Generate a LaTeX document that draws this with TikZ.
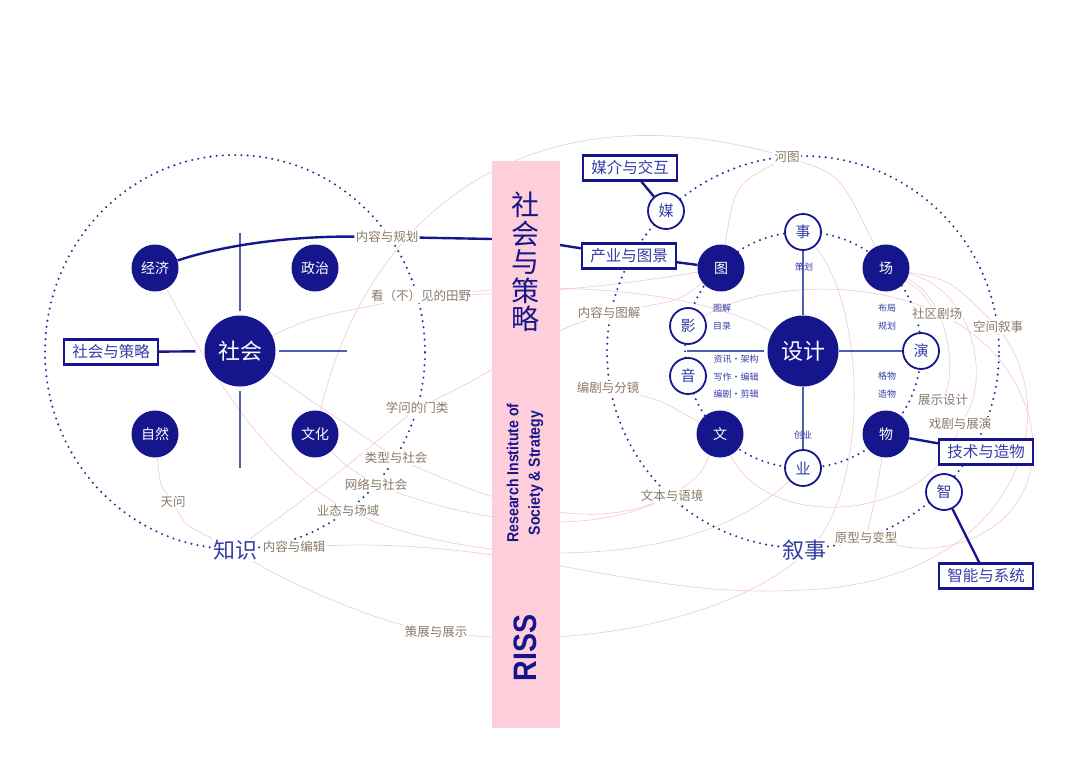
\documentclass[tikz,border=0pt]{standalone}
\usepackage{fontspec}
\newfontfamily\cjk{Noto Sans CJK SC}
\newfontfamily\rissfont[FakeStretch=0.88]{Liberation Sans}

\definecolor{navy}{RGB}{22,22,140}
\definecolor{inkblue}{RGB}{52,62,165}
\definecolor{spokeblue}{RGB}{80,95,180}
\definecolor{dotblue}{RGB}{40,50,150}
\definecolor{barpink}{RGB}{255,206,219}
\definecolor{threadpink}{RGB}{244,204,216}
\definecolor{taupe}{RGB}{138,122,106}

\pgfdeclarelayer{under}
\pgfsetlayers{under,main}

\tikzset{
  hub/.style={circle, fill=navy, text=white, inner sep=0pt, minimum size=71pt, font=\cjk\fontsize{22}{22}\selectfont},
  field/.style={circle, fill=navy, text=white, inner sep=0pt, minimum size=47pt, font=\cjk\fontsize{14}{14}\selectfont},
  ring/.style={circle, draw=navy, line width=1.8pt, fill=white, text=inkblue, inner sep=0pt, minimum size=36pt, font=\cjk\fontsize{15}{15}\selectfont},
  tag/.style={draw=navy, line width=2.2pt, fill=white, text=inkblue, inner sep=0pt, minimum width=94pt, minimum height=25pt, font=\cjk\fontsize{15.5}{15.5}\selectfont},
  theme/.style={fill=white, text=taupe, inner sep=1.2pt, font=\cjk\fontsize{12.5}{12.5}\selectfont},
  realm/.style={fill=white, text=inkblue, inner sep=1pt, font=\cjk\fontsize{22}{22}\selectfont},
  note/.style={text=inkblue, inner sep=0.5pt, font=\cjk\fontsize{9}{9}\selectfont},
  thread/.style={draw=threadpink, line width=0.7pt},
  dotring/.style={draw=dotblue, line width=2.3pt, dash pattern=on 0pt off 6.2pt, line cap=round},
  spoke/.style={draw=spokeblue, line width=1.5pt},
  heavy/.style={draw=navy, line width=2.4pt}
}

\begin{document}
\begin{tikzpicture}[x=1pt,y=-1pt]
\useasboundingbox (0,0) rectangle (1079,762);

% the bar
\node[fill=barpink, minimum width=68pt, minimum height=567pt, inner sep=0pt] (bar) at (526,444.5) {};
\node[text=navy, align=center, inner sep=0pt, font=\cjk\fontsize{28}{28.6}\selectfont] (barTitle) at (525,262) {社\\会\\与\\策\\略};
\node[rotate=90, text=navy, align=center, inner sep=0pt, font=\rissfont\bfseries\fontsize{16}{21.7}\selectfont] (barName) at (525,473) {Research Institute of\\Society \& Strategy};
\node[rotate=90, text=navy, inner sep=0pt, font=\rissfont\bfseries\fontsize{32.5}{32.5}\selectfont] (barRiss) at (525,648) {RISS};
\coordinate (barGuihua) at (492,239);
\coordinate (barChanye) at (560,245);

% society side
\node[hub] (shehui) at (240,351) {社会};
\node[field] (jingji) at (155,268) {经济};
\node[field] (zhengzhi) at (315,268) {政治};
\node[field] (ziran) at (155,434) {自然};
\node[field] (wenhua) at (315,434) {文化};
\node[tag] (boxShehui) at (111,352) {社会与策略};
\coordinate (crossN) at (240,233);
\coordinate (crossS) at (240,468);
\coordinate (crossE) at (347,351);

\node[theme] (lbGuihua) at (387,237) {内容与规划};
\node[theme] (lbTianye) at (421,296) {看（不）见的田野};
\node[theme] (lbXuewen) at (417,408) {学问的门类};
\node[theme] (lbLeixing) at (396,458) {类型与社会};
\node[theme] (lbWangluo) at (376,485) {网络与社会};
\node[theme] (lbYetai) at (348,511) {业态与场域};
\node[theme] (lbTianwen) at (173,502) {天问};
\node[theme] (lbBianji) at (294,547) {内容与编辑};
\node[theme] (lbCezhan) at (436,632) {策展与展示};
\node[realm] (zhishi) at (235,550) {知识};

% design side
\node[hub] (sheji) at (803,351) {设计};
\node[ring] (shi) at (803,232) {事};
\node[field] (chang) at (886,268) {场};
\node[ring] (yan) at (921,351) {演};
\node[field] (wu) at (886,434) {物};
\node[ring] (ye) at (803,468) {业};
\node[field] (wen) at (720,434) {文};
\node[ring] (yin) at (688,376) {音};
\node[ring] (ying) at (688,326) {影};
\node[field] (tu) at (721,268) {图};
\node[ring] (mei) at (666,211) {媒};
\node[ring] (zhi) at (944,492) {智};
\coordinate (crossW) at (687,351);

\node[tag] (boxMeijie) at (630,168) {媒介与交互};
\node[tag] (boxChanye) at (629,256) {产业与图景};
\node[tag] (boxJishu) at (986,452) {技术与造物};
\node[tag] (boxZhineng) at (986,576) {智能与系统};

\node[theme] (lbHetu) at (787,157) {河图};
\node[theme] (lbTujie) at (609,313) {内容与图解};
\node[theme] (lbFenjing) at (608,388) {编剧与分镜};
\node[theme] (lbJuchang) at (937,314) {社区剧场};
\node[theme] (lbKongjian) at (998,327) {空间叙事};
\node[theme] (lbZhanshi) at (943,400) {展示设计};
\node[theme] (lbXiju) at (960,424) {戏剧与展演};
\node[theme] (lbYujing) at (672,496) {文本与语境};
\node[theme] (lbYuanxing) at (866,538) {原型与变型};
\node[realm] (xushi) at (804,550) {叙事};

\node[note] at (804,267) {策划};
\node[note] at (887,308) {布局};
\node[note] at (887,326) {规划};
\node[note] at (887,376) {格物};
\node[note] at (887,394) {造物};
\node[note] at (803,435) {创业};
\node[note] at (722,308) {图解};
\node[note] at (722,326) {目录};
\node[note] at (736,359) {资讯·架构};
\node[note] at (736,377) {写作·编辑};
\node[note] at (736,394) {编剧·剪辑};

\begin{pgfonlayer}{under}
% pink threads
\draw[thread] (jingji) .. controls (200,350) and (250,450) .. (lbYetai);
\draw[thread] (ziran) .. controls (160,485) .. (lbTianwen);
\draw[thread] (lbTianwen) .. controls (185,525) .. (zhishi);
\draw[thread] (shehui) .. controls (310,318) .. (lbTianye);
\draw[thread] (lbTianye) .. controls (600,280) and (720,300) .. (sheji);
\draw[thread] (lbTianye) .. controls (560,292) and (640,282) .. (tu);
\draw[thread] (wenhua) .. controls (370,200) and (540,90) .. (lbHetu);
\draw[thread] (lbHetu) .. controls (840,175) .. (chang);
\draw[thread] (lbHetu) .. controls (735,185) .. (tu);
\draw[thread] (shehui) .. controls (310,400) .. (lbLeixing);
\draw[thread] (lbLeixing) .. controls (470,490) and (570,535) .. (lbYujing);
\draw[thread] (wenhua) .. controls (345,465) .. (lbWangluo);
\draw[thread] (lbWangluo) .. controls (460,515) and (570,540) .. (lbYujing);
\draw[thread] (zhishi) .. controls (330,480) .. (lbXuewen);
\draw[thread] (lbXuewen) .. controls (500,370) and (540,335) .. (lbTujie);
\draw[thread] (lbTujie) .. controls (680,300) .. (tu);
\draw[thread] (zhishi) .. controls (300,590) and (380,620) .. (lbCezhan);
\draw[thread] (lbCezhan) .. controls (620,650) and (780,600) .. (825,530) .. controls (870,450) and (860,300) .. (shi);
\draw[thread] (lbBianji) .. controls (520,538) and (640,600) .. (800,590) .. controls (1000,585) and (1070,430) .. (lbKongjian);
\draw[thread] (lbYetai) .. controls (480,565) and (690,575) .. (ye);
\draw[thread] (lbFenjing) .. controls (660,400) .. (wen);
\draw[thread] (wen) .. controls (700,475) .. (lbYujing);
\draw[thread] (wen) .. controls (770,535) and (930,520) .. (lbXiju);
\draw[thread] (chang) .. controls (920,290) .. (lbJuchang);
\draw[thread] (chang) .. controls (950,300) and (955,370) .. (lbZhanshi);
\draw[thread] (chang) .. controls (975,290) and (990,380) .. (lbXiju);
\draw[thread] (chang) .. controls (950,280) .. (lbKongjian);
\draw[thread] (wu) .. controls (875,500) .. (lbYuanxing);
\draw[thread] (ying) .. controls (780,270) and (990,270) .. (1030,420) .. controls (1050,520) and (960,560) .. (lbYuanxing);

% dotted rings
\draw[dotring] (235,352) ellipse [x radius=190pt, y radius=197pt];
\draw[dotring] (803,352) circle [radius=196pt];
\draw[dotring] (803,350) circle [radius=118pt];

% spokes
\draw[spoke, shorten <=4pt] (shehui) -- (crossN);
\draw[spoke, shorten <=4pt] (shehui) -- (crossS);
\draw[spoke, shorten <=3pt] (shehui) -- (crossE);
\draw[spoke] (sheji) -- (shi);
\draw[spoke] (sheji) -- (ye);
\draw[spoke] (sheji) -- (yan);
\draw[spoke, shorten <=3pt] (sheji) -- (crossW);

% connectors
\draw[heavy, shorten >=9pt] (boxShehui) -- (shehui);
\draw[heavy] (jingji) .. controls (230,243) and (300,236) .. (lbGuihua);
\draw[heavy] (lbGuihua) -- (barGuihua);
\draw[heavy] (barChanye) -- (boxChanye);
\draw[heavy] (boxChanye) -- (tu);
\draw[heavy] (boxMeijie) -- (mei);
\draw[heavy] (wu) -- (boxJishu);
\draw[heavy] (zhi) -- (boxZhineng);
\end{pgfonlayer}
\end{tikzpicture}
\end{document}
